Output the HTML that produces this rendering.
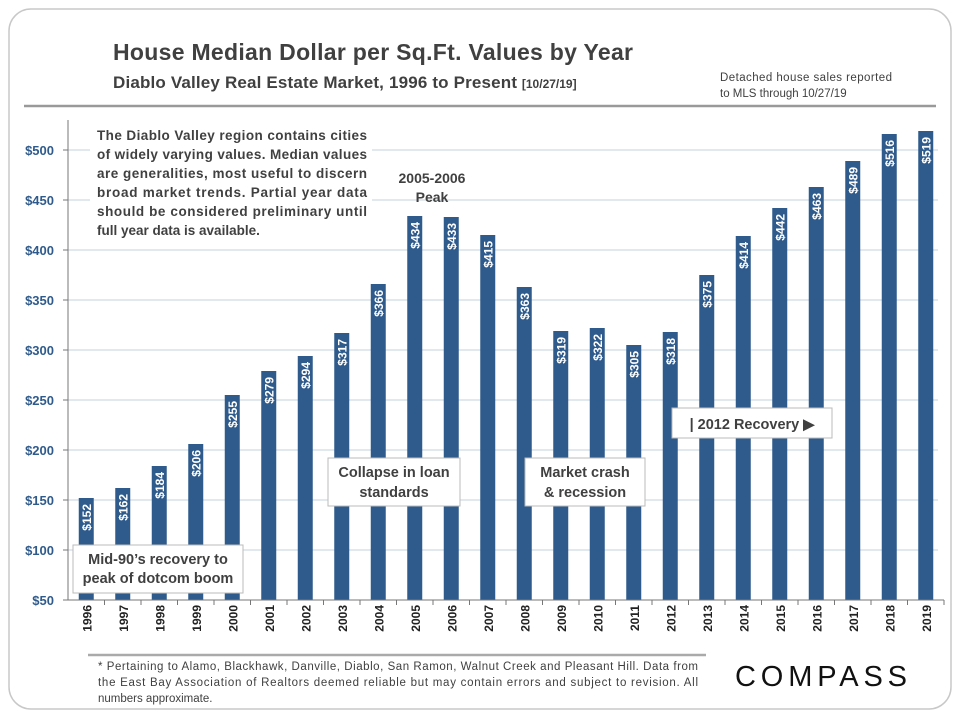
<!DOCTYPE html>
<html><head><meta charset="utf-8"><style>
body{margin:0;background:#fff;}
svg text{font-family:"Liberation Sans",sans-serif;}
</style></head><body>
<svg width="960" height="720" xmlns="http://www.w3.org/2000/svg">
<rect x="9" y="9" width="942" height="700" rx="22" fill="#fff" stroke="#c8c8c8" stroke-width="1.5"/>
<text x="113" y="60" font-size="23" font-weight="bold" fill="#404040" textLength="520">House Median Dollar per Sq.Ft. Values by Year</text>
<text x="113" y="88" font-size="17" font-weight="bold" fill="#404040"><tspan textLength="404">Diablo Valley Real Estate Market, 1996 to Present</tspan> <tspan font-size="12">[10/27/19]</tspan></text>
<text x="720" y="81" font-size="11.5" fill="#404040" textLength="172">Detached house sales reported</text>
<text x="720" y="97" font-size="11.5" fill="#404040">to MLS through 10/27/19</text>
<line x1="24" y1="106" x2="936" y2="106" stroke="#999" stroke-width="2.5"/>
<g id="grid"></g>
<g id="bars"></g>
<g id="axes"></g>
<g font-size="13.5" font-weight="bold" fill="#404040">
<rect x="90" y="124" width="282" height="116" fill="#fff"/>
<text x="97" y="140" textLength="270">The Diablo Valley region contains cities</text>
<text x="97" y="159" textLength="270">of widely varying values. Median values</text>
<text x="97" y="178" textLength="270">are generalities, most useful to discern</text>
<text x="97" y="197" textLength="270">broad market trends. Partial year data</text>
<text x="97" y="216" textLength="270">should be considered preliminary until</text>
<text x="97" y="235">full year data is available.</text>
</g>
<g font-size="14" font-weight="bold" fill="#404040" text-anchor="middle">
<text x="432" y="183">2005-2006</text><text x="432" y="202">Peak</text></g>
<g><rect x="73" y="545" width="170" height="48" fill="#fff" stroke="#bbb"/>
<text x="158" y="564" font-size="14.5" font-weight="bold" fill="#404040" text-anchor="middle">Mid-90’s recovery to</text>
<text x="158" y="583" font-size="14.5" font-weight="bold" fill="#404040" text-anchor="middle">peak of dotcom boom</text></g>
<g><rect x="328" y="458" width="132" height="48" fill="#fff" stroke="#bbb"/>
<text x="394" y="477" font-size="14.5" font-weight="bold" fill="#404040" text-anchor="middle">Collapse in loan</text>
<text x="394" y="497" font-size="14.5" font-weight="bold" fill="#404040" text-anchor="middle">standards</text></g>
<g><rect x="525" y="458" width="120" height="48" fill="#fff" stroke="#bbb"/>
<text x="585" y="477" font-size="14.5" font-weight="bold" fill="#404040" text-anchor="middle">Market crash</text>
<text x="585" y="497" font-size="14.5" font-weight="bold" fill="#404040" text-anchor="middle">&amp; recession</text></g>
<g><rect x="672" y="408" width="160" height="30" fill="#fff" stroke="#bbb"/>
<text x="752" y="429" font-size="14.5" font-weight="bold" fill="#404040" text-anchor="middle">| 2012 Recovery ▶</text></g>
<line x1="88" y1="655" x2="706" y2="655" stroke="#aaa" stroke-width="2.5"/>
<g font-size="11.5" fill="#404040">
<text x="98" y="670" textLength="600">* Pertaining to Alamo, Blackhawk, Danville, Diablo, San Ramon, Walnut Creek and Pleasant Hill. Data from</text>
<text x="98" y="686" textLength="600">the East Bay Association of Realtors deemed reliable but may contain errors and subject to revision. All</text>
<text x="98" y="702">numbers approximate.</text></g>
<text x="735" y="686" font-size="29" fill="#111" textLength="172">COMPASS</text>
<script>
const years=["1996","1997","1998","1999","2000","2001","2002","2003","2004","2005","2006","2007","2008","2009","2010","2011","2012","2013","2014","2015","2016","2017","2018","2019"];
const values=[152,162,184,206,255,279,294,317,366,434,433,415,363,319,322,305,318,375,414,442,463,489,516,519];
const ticks=[50,100,150,200,250,300,350,400,450,500];
const NS="http://www.w3.org/2000/svg";
const X0=68,SLOT=36.5,BW=15;
function y(v){return 600-(v-50)*1.0;}
function xc(i){return X0+SLOT*(i+0.5);}
function mk(t,a,p){const e=document.createElementNS(NS,t);for(const k in a)e.setAttribute(k,a[k]);p.appendChild(e);return e;}
const grid=document.getElementById('grid'),bars=document.getElementById('bars'),axes=document.getElementById('axes');
ticks.forEach(t=>{
 if(t>50){const g=mk('line',{x1:X0,x2:938,y1:y(t),y2:y(t),stroke:'#c5d3dc','stroke-width':1},grid);
 
 }
 const tk=mk('line',{x1:X0-5,x2:X0,y1:y(t),y2:y(t),stroke:'#777'},axes);
 
 
 const l=mk('text',{x:X0-14,y:y(t)+5,'text-anchor':'end','font-size':13,'font-weight':'bold',fill:'#2f5b8c'},axes);
 l.textContent='$'+t;
 
 
});
const ya=mk('line',{x1:X0,x2:X0,y1:120,y2:600,stroke:'#777'},axes);


const xa=mk('line',{x1:X0,x2:X0+SLOT*years.length,y1:600,y2:600,stroke:'#777'},axes);


years.forEach((yr,i)=>{
 const v=values[i],cx=xc(i);
 const b=mk('rect',{x:cx-BW/2,y:y(v),width:BW,height:600-y(v),fill:'#2f5b8c'},bars);
 
 
 const vl=mk('text',{x:0,y:0,transform:`translate(${cx+4.5},${y(v)+6}) rotate(-90)`,'text-anchor':'end','font-size':12,'font-weight':'bold',fill:'#fff'},bars);
 vl.textContent='$'+v;
 
 
 const tk=mk('line',{x1:X0+SLOT*(i+1),x2:X0+SLOT*(i+1),y1:600,y2:605,stroke:'#777'},axes);
 
 
 const xl=mk('text',{x:0,y:0,transform:`translate(${cx+5},${605}) rotate(-90)`,'text-anchor':'end','font-size':12,'font-weight':'bold',fill:'#222'},axes);
 xl.textContent=yr;
 
 
});
</script>
</svg>
</body></html>
